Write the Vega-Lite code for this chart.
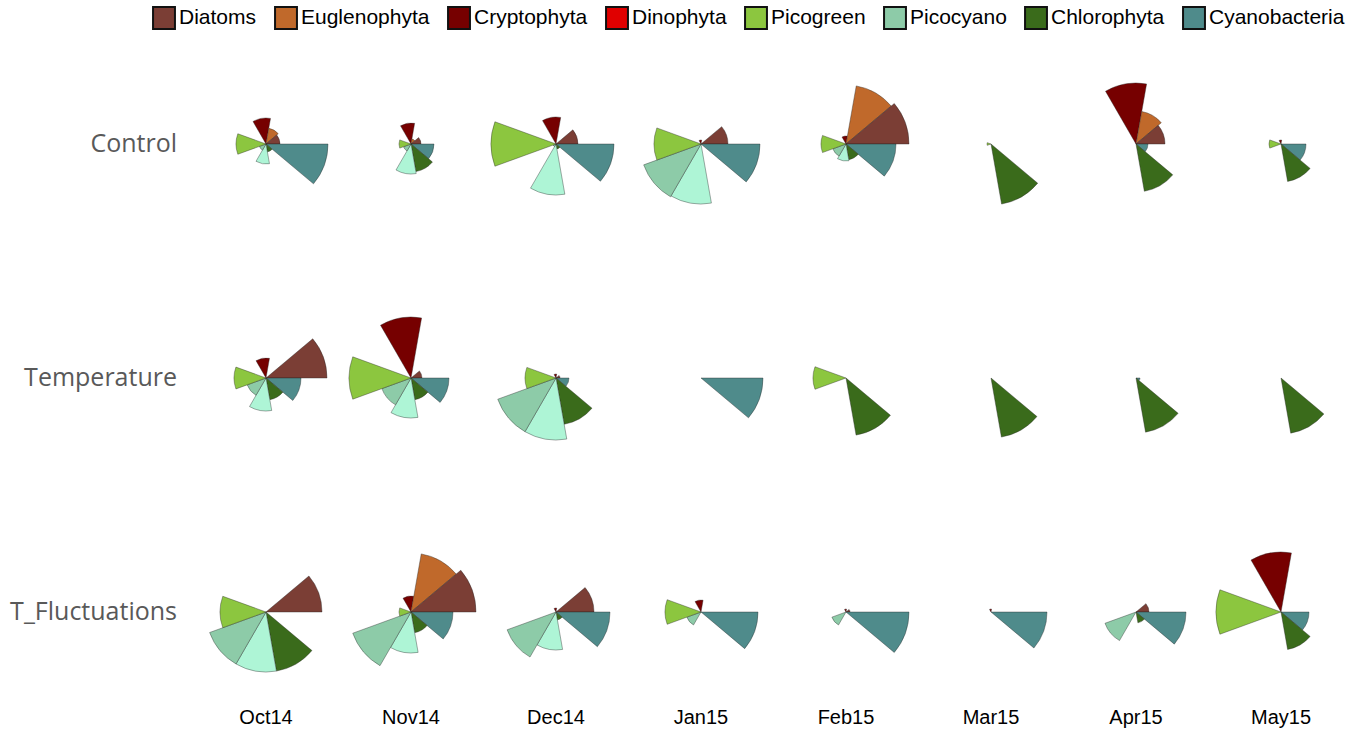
{
  "$schema": "https://vega.github.io/schema/vega-lite/v6.json",
  "padding": {"left": 10, "top": 6, "right": 5, "bottom": 5},
  "background": "white",
  "data": {"values": [
    {"treatment":"Control","month":"Oct14","group":"Cryptophyta","value":26},
    {"treatment":"Control","month":"Oct14","group":"Euglenophyta","value":16},
    {"treatment":"Control","month":"Oct14","group":"Diatoms","value":14},
    {"treatment":"Control","month":"Oct14","group":"Cyanobacteria","value":62},
    {"treatment":"Control","month":"Oct14","group":"Chlorophyta","value":8},
    {"treatment":"Control","month":"Oct14","group":"Other","value":20},
    {"treatment":"Control","month":"Oct14","group":"Picocyano","value":7},
    {"treatment":"Control","month":"Oct14","group":"Picogreen","value":30},
    {"treatment":"Control","month":"Oct14","group":"Dinophyta","value":0},
    {"treatment":"Control","month":"Nov14","group":"Cryptophyta","value":21},
    {"treatment":"Control","month":"Nov14","group":"Euglenophyta","value":5},
    {"treatment":"Control","month":"Nov14","group":"Diatoms","value":10},
    {"treatment":"Control","month":"Nov14","group":"Cyanobacteria","value":23},
    {"treatment":"Control","month":"Nov14","group":"Chlorophyta","value":28},
    {"treatment":"Control","month":"Nov14","group":"Other","value":30},
    {"treatment":"Control","month":"Nov14","group":"Picocyano","value":8},
    {"treatment":"Control","month":"Nov14","group":"Picogreen","value":12},
    {"treatment":"Control","month":"Nov14","group":"Dinophyta","value":0},
    {"treatment":"Control","month":"Dec14","group":"Cryptophyta","value":27},
    {"treatment":"Control","month":"Dec14","group":"Euglenophyta","value":0},
    {"treatment":"Control","month":"Dec14","group":"Diatoms","value":22},
    {"treatment":"Control","month":"Dec14","group":"Cyanobacteria","value":58},
    {"treatment":"Control","month":"Dec14","group":"Chlorophyta","value":5},
    {"treatment":"Control","month":"Dec14","group":"Other","value":51},
    {"treatment":"Control","month":"Dec14","group":"Picocyano","value":3},
    {"treatment":"Control","month":"Dec14","group":"Picogreen","value":65},
    {"treatment":"Control","month":"Dec14","group":"Dinophyta","value":0},
    {"treatment":"Control","month":"Jan15","group":"Cryptophyta","value":4},
    {"treatment":"Control","month":"Jan15","group":"Euglenophyta","value":0},
    {"treatment":"Control","month":"Jan15","group":"Diatoms","value":27},
    {"treatment":"Control","month":"Jan15","group":"Cyanobacteria","value":59},
    {"treatment":"Control","month":"Jan15","group":"Chlorophyta","value":0},
    {"treatment":"Control","month":"Jan15","group":"Other","value":60},
    {"treatment":"Control","month":"Jan15","group":"Picocyano","value":61},
    {"treatment":"Control","month":"Jan15","group":"Picogreen","value":47},
    {"treatment":"Control","month":"Jan15","group":"Dinophyta","value":0},
    {"treatment":"Control","month":"Feb15","group":"Cryptophyta","value":8},
    {"treatment":"Control","month":"Feb15","group":"Euglenophyta","value":59},
    {"treatment":"Control","month":"Feb15","group":"Diatoms","value":63},
    {"treatment":"Control","month":"Feb15","group":"Cyanobacteria","value":50},
    {"treatment":"Control","month":"Feb15","group":"Chlorophyta","value":16},
    {"treatment":"Control","month":"Feb15","group":"Other","value":17},
    {"treatment":"Control","month":"Feb15","group":"Picocyano","value":14},
    {"treatment":"Control","month":"Feb15","group":"Picogreen","value":25},
    {"treatment":"Control","month":"Feb15","group":"Dinophyta","value":0},
    {"treatment":"Control","month":"Mar15","group":"Cryptophyta","value":0},
    {"treatment":"Control","month":"Mar15","group":"Euglenophyta","value":0},
    {"treatment":"Control","month":"Mar15","group":"Diatoms","value":0},
    {"treatment":"Control","month":"Mar15","group":"Cyanobacteria","value":0},
    {"treatment":"Control","month":"Mar15","group":"Chlorophyta","value":61},
    {"treatment":"Control","month":"Mar15","group":"Other","value":0},
    {"treatment":"Control","month":"Mar15","group":"Picocyano","value":0},
    {"treatment":"Control","month":"Mar15","group":"Picogreen","value":4},
    {"treatment":"Control","month":"Mar15","group":"Dinophyta","value":0},
    {"treatment":"Control","month":"Apr15","group":"Cryptophyta","value":61},
    {"treatment":"Control","month":"Apr15","group":"Euglenophyta","value":33},
    {"treatment":"Control","month":"Apr15","group":"Diatoms","value":29},
    {"treatment":"Control","month":"Apr15","group":"Cyanobacteria","value":12},
    {"treatment":"Control","month":"Apr15","group":"Chlorophyta","value":48},
    {"treatment":"Control","month":"Apr15","group":"Other","value":0},
    {"treatment":"Control","month":"Apr15","group":"Picocyano","value":0},
    {"treatment":"Control","month":"Apr15","group":"Picogreen","value":0},
    {"treatment":"Control","month":"Apr15","group":"Dinophyta","value":0},
    {"treatment":"Control","month":"May15","group":"Cryptophyta","value":4},
    {"treatment":"Control","month":"May15","group":"Euglenophyta","value":0},
    {"treatment":"Control","month":"May15","group":"Diatoms","value":0},
    {"treatment":"Control","month":"May15","group":"Cyanobacteria","value":25},
    {"treatment":"Control","month":"May15","group":"Chlorophyta","value":38},
    {"treatment":"Control","month":"May15","group":"Other","value":0},
    {"treatment":"Control","month":"May15","group":"Picocyano","value":0},
    {"treatment":"Control","month":"May15","group":"Picogreen","value":12},
    {"treatment":"Control","month":"May15","group":"Dinophyta","value":0},

    {"treatment":"Temperature","month":"Oct14","group":"Cryptophyta","value":20},
    {"treatment":"Temperature","month":"Oct14","group":"Euglenophyta","value":0},
    {"treatment":"Temperature","month":"Oct14","group":"Diatoms","value":61},
    {"treatment":"Temperature","month":"Oct14","group":"Cyanobacteria","value":35},
    {"treatment":"Temperature","month":"Oct14","group":"Chlorophyta","value":22},
    {"treatment":"Temperature","month":"Oct14","group":"Other","value":33},
    {"treatment":"Temperature","month":"Oct14","group":"Picocyano","value":20},
    {"treatment":"Temperature","month":"Oct14","group":"Picogreen","value":32},
    {"treatment":"Temperature","month":"Oct14","group":"Dinophyta","value":0},
    {"treatment":"Temperature","month":"Nov14","group":"Cryptophyta","value":61},
    {"treatment":"Temperature","month":"Nov14","group":"Euglenophyta","value":0},
    {"treatment":"Temperature","month":"Nov14","group":"Diatoms","value":11},
    {"treatment":"Temperature","month":"Nov14","group":"Cyanobacteria","value":38},
    {"treatment":"Temperature","month":"Nov14","group":"Chlorophyta","value":22},
    {"treatment":"Temperature","month":"Nov14","group":"Other","value":40},
    {"treatment":"Temperature","month":"Nov14","group":"Picocyano","value":31},
    {"treatment":"Temperature","month":"Nov14","group":"Picogreen","value":62},
    {"treatment":"Temperature","month":"Nov14","group":"Dinophyta","value":0},
    {"treatment":"Temperature","month":"Dec14","group":"Cryptophyta","value":4},
    {"treatment":"Temperature","month":"Dec14","group":"Euglenophyta","value":0},
    {"treatment":"Temperature","month":"Dec14","group":"Diatoms","value":4},
    {"treatment":"Temperature","month":"Dec14","group":"Cyanobacteria","value":13},
    {"treatment":"Temperature","month":"Dec14","group":"Chlorophyta","value":47},
    {"treatment":"Temperature","month":"Dec14","group":"Other","value":62},
    {"treatment":"Temperature","month":"Dec14","group":"Picocyano","value":62},
    {"treatment":"Temperature","month":"Dec14","group":"Picogreen","value":31},
    {"treatment":"Temperature","month":"Dec14","group":"Dinophyta","value":0},
    {"treatment":"Temperature","month":"Jan15","group":"Cryptophyta","value":0},
    {"treatment":"Temperature","month":"Jan15","group":"Euglenophyta","value":0},
    {"treatment":"Temperature","month":"Jan15","group":"Diatoms","value":0},
    {"treatment":"Temperature","month":"Jan15","group":"Cyanobacteria","value":62},
    {"treatment":"Temperature","month":"Jan15","group":"Chlorophyta","value":0},
    {"treatment":"Temperature","month":"Jan15","group":"Other","value":0},
    {"treatment":"Temperature","month":"Jan15","group":"Picocyano","value":0},
    {"treatment":"Temperature","month":"Jan15","group":"Picogreen","value":0},
    {"treatment":"Temperature","month":"Jan15","group":"Dinophyta","value":0},
    {"treatment":"Temperature","month":"Feb15","group":"Cryptophyta","value":0},
    {"treatment":"Temperature","month":"Feb15","group":"Euglenophyta","value":0},
    {"treatment":"Temperature","month":"Feb15","group":"Diatoms","value":0},
    {"treatment":"Temperature","month":"Feb15","group":"Cyanobacteria","value":0},
    {"treatment":"Temperature","month":"Feb15","group":"Chlorophyta","value":58},
    {"treatment":"Temperature","month":"Feb15","group":"Other","value":0},
    {"treatment":"Temperature","month":"Feb15","group":"Picocyano","value":0},
    {"treatment":"Temperature","month":"Feb15","group":"Picogreen","value":33},
    {"treatment":"Temperature","month":"Feb15","group":"Dinophyta","value":0},
    {"treatment":"Temperature","month":"Mar15","group":"Cryptophyta","value":0},
    {"treatment":"Temperature","month":"Mar15","group":"Euglenophyta","value":0},
    {"treatment":"Temperature","month":"Mar15","group":"Diatoms","value":0},
    {"treatment":"Temperature","month":"Mar15","group":"Cyanobacteria","value":0},
    {"treatment":"Temperature","month":"Mar15","group":"Chlorophyta","value":60},
    {"treatment":"Temperature","month":"Mar15","group":"Other","value":0},
    {"treatment":"Temperature","month":"Mar15","group":"Picocyano","value":0},
    {"treatment":"Temperature","month":"Mar15","group":"Picogreen","value":0},
    {"treatment":"Temperature","month":"Mar15","group":"Dinophyta","value":0},
    {"treatment":"Temperature","month":"Apr15","group":"Cryptophyta","value":0},
    {"treatment":"Temperature","month":"Apr15","group":"Euglenophyta","value":0},
    {"treatment":"Temperature","month":"Apr15","group":"Diatoms","value":0},
    {"treatment":"Temperature","month":"Apr15","group":"Cyanobacteria","value":4},
    {"treatment":"Temperature","month":"Apr15","group":"Chlorophyta","value":55},
    {"treatment":"Temperature","month":"Apr15","group":"Other","value":0},
    {"treatment":"Temperature","month":"Apr15","group":"Picocyano","value":0},
    {"treatment":"Temperature","month":"Apr15","group":"Picogreen","value":0},
    {"treatment":"Temperature","month":"Apr15","group":"Dinophyta","value":0},
    {"treatment":"Temperature","month":"May15","group":"Cryptophyta","value":0},
    {"treatment":"Temperature","month":"May15","group":"Euglenophyta","value":0},
    {"treatment":"Temperature","month":"May15","group":"Diatoms","value":0},
    {"treatment":"Temperature","month":"May15","group":"Cyanobacteria","value":0},
    {"treatment":"Temperature","month":"May15","group":"Chlorophyta","value":56},
    {"treatment":"Temperature","month":"May15","group":"Other","value":0},
    {"treatment":"Temperature","month":"May15","group":"Picocyano","value":0},
    {"treatment":"Temperature","month":"May15","group":"Picogreen","value":0},
    {"treatment":"Temperature","month":"May15","group":"Dinophyta","value":0},

    {"treatment":"T_Fluctuations","month":"Oct14","group":"Cryptophyta","value":0},
    {"treatment":"T_Fluctuations","month":"Oct14","group":"Euglenophyta","value":0},
    {"treatment":"T_Fluctuations","month":"Oct14","group":"Diatoms","value":56},
    {"treatment":"T_Fluctuations","month":"Oct14","group":"Cyanobacteria","value":0},
    {"treatment":"T_Fluctuations","month":"Oct14","group":"Chlorophyta","value":60},
    {"treatment":"T_Fluctuations","month":"Oct14","group":"Other","value":60},
    {"treatment":"T_Fluctuations","month":"Oct14","group":"Picocyano","value":60},
    {"treatment":"T_Fluctuations","month":"Oct14","group":"Picogreen","value":46},
    {"treatment":"T_Fluctuations","month":"Oct14","group":"Dinophyta","value":0},
    {"treatment":"T_Fluctuations","month":"Nov14","group":"Cryptophyta","value":16},
    {"treatment":"T_Fluctuations","month":"Nov14","group":"Euglenophyta","value":59},
    {"treatment":"T_Fluctuations","month":"Nov14","group":"Diatoms","value":65},
    {"treatment":"T_Fluctuations","month":"Nov14","group":"Cyanobacteria","value":42},
    {"treatment":"T_Fluctuations","month":"Nov14","group":"Chlorophyta","value":21},
    {"treatment":"T_Fluctuations","month":"Nov14","group":"Other","value":41},
    {"treatment":"T_Fluctuations","month":"Nov14","group":"Picocyano","value":62},
    {"treatment":"T_Fluctuations","month":"Nov14","group":"Picogreen","value":12},
    {"treatment":"T_Fluctuations","month":"Nov14","group":"Dinophyta","value":0},
    {"treatment":"T_Fluctuations","month":"Dec14","group":"Cryptophyta","value":4},
    {"treatment":"T_Fluctuations","month":"Dec14","group":"Euglenophyta","value":0},
    {"treatment":"T_Fluctuations","month":"Dec14","group":"Diatoms","value":38},
    {"treatment":"T_Fluctuations","month":"Dec14","group":"Cyanobacteria","value":54},
    {"treatment":"T_Fluctuations","month":"Dec14","group":"Chlorophyta","value":8},
    {"treatment":"T_Fluctuations","month":"Dec14","group":"Other","value":38},
    {"treatment":"T_Fluctuations","month":"Dec14","group":"Picocyano","value":52},
    {"treatment":"T_Fluctuations","month":"Dec14","group":"Picogreen","value":0},
    {"treatment":"T_Fluctuations","month":"Dec14","group":"Dinophyta","value":0},
    {"treatment":"T_Fluctuations","month":"Jan15","group":"Cryptophyta","value":12},
    {"treatment":"T_Fluctuations","month":"Jan15","group":"Euglenophyta","value":0},
    {"treatment":"T_Fluctuations","month":"Jan15","group":"Diatoms","value":0},
    {"treatment":"T_Fluctuations","month":"Jan15","group":"Cyanobacteria","value":57},
    {"treatment":"T_Fluctuations","month":"Jan15","group":"Chlorophyta","value":0},
    {"treatment":"T_Fluctuations","month":"Jan15","group":"Other","value":0},
    {"treatment":"T_Fluctuations","month":"Jan15","group":"Picocyano","value":15},
    {"treatment":"T_Fluctuations","month":"Jan15","group":"Picogreen","value":36},
    {"treatment":"T_Fluctuations","month":"Jan15","group":"Dinophyta","value":0},
    {"treatment":"T_Fluctuations","month":"Feb15","group":"Cryptophyta","value":3},
    {"treatment":"T_Fluctuations","month":"Feb15","group":"Euglenophyta","value":0},
    {"treatment":"T_Fluctuations","month":"Feb15","group":"Diatoms","value":4},
    {"treatment":"T_Fluctuations","month":"Feb15","group":"Cyanobacteria","value":63},
    {"treatment":"T_Fluctuations","month":"Feb15","group":"Chlorophyta","value":0},
    {"treatment":"T_Fluctuations","month":"Feb15","group":"Other","value":0},
    {"treatment":"T_Fluctuations","month":"Feb15","group":"Picocyano","value":15},
    {"treatment":"T_Fluctuations","month":"Feb15","group":"Picogreen","value":0},
    {"treatment":"T_Fluctuations","month":"Feb15","group":"Dinophyta","value":0},
    {"treatment":"T_Fluctuations","month":"Mar15","group":"Cryptophyta","value":3},
    {"treatment":"T_Fluctuations","month":"Mar15","group":"Euglenophyta","value":0},
    {"treatment":"T_Fluctuations","month":"Mar15","group":"Diatoms","value":0},
    {"treatment":"T_Fluctuations","month":"Mar15","group":"Cyanobacteria","value":56},
    {"treatment":"T_Fluctuations","month":"Mar15","group":"Chlorophyta","value":0},
    {"treatment":"T_Fluctuations","month":"Mar15","group":"Other","value":0},
    {"treatment":"T_Fluctuations","month":"Mar15","group":"Picocyano","value":0},
    {"treatment":"T_Fluctuations","month":"Mar15","group":"Picogreen","value":0},
    {"treatment":"T_Fluctuations","month":"Mar15","group":"Dinophyta","value":0},
    {"treatment":"T_Fluctuations","month":"Apr15","group":"Cryptophyta","value":0},
    {"treatment":"T_Fluctuations","month":"Apr15","group":"Euglenophyta","value":0},
    {"treatment":"T_Fluctuations","month":"Apr15","group":"Diatoms","value":13},
    {"treatment":"T_Fluctuations","month":"Apr15","group":"Cyanobacteria","value":50},
    {"treatment":"T_Fluctuations","month":"Apr15","group":"Chlorophyta","value":11},
    {"treatment":"T_Fluctuations","month":"Apr15","group":"Other","value":0},
    {"treatment":"T_Fluctuations","month":"Apr15","group":"Picocyano","value":33},
    {"treatment":"T_Fluctuations","month":"Apr15","group":"Picogreen","value":0},
    {"treatment":"T_Fluctuations","month":"Apr15","group":"Dinophyta","value":0},
    {"treatment":"T_Fluctuations","month":"May15","group":"Cryptophyta","value":60},
    {"treatment":"T_Fluctuations","month":"May15","group":"Euglenophyta","value":0},
    {"treatment":"T_Fluctuations","month":"May15","group":"Diatoms","value":0},
    {"treatment":"T_Fluctuations","month":"May15","group":"Cyanobacteria","value":28},
    {"treatment":"T_Fluctuations","month":"May15","group":"Chlorophyta","value":38},
    {"treatment":"T_Fluctuations","month":"May15","group":"Other","value":0},
    {"treatment":"T_Fluctuations","month":"May15","group":"Picocyano","value":0},
    {"treatment":"T_Fluctuations","month":"May15","group":"Picogreen","value":65},
    {"treatment":"T_Fluctuations","month":"May15","group":"Dinophyta","value":0}
  ]},
  "transform": [
    {"window": [{"op": "count", "as": "slotEnd"}], "frame": [null, 0], "groupby": ["treatment", "month"]},
    {"window": [{"op": "count", "as": "slotStart"}], "frame": [null, -1], "groupby": ["treatment", "month"]},
    {"filter": "datum.value > 0"}
  ],
  "facet": {
    "row": {
      "field": "treatment", "type": "nominal",
      "sort": ["Control", "Temperature", "T_Fluctuations"],
      "header": {"title": null, "labelAngle": 0, "labelAlign": "left", "labelFont": "Open Sans", "labelFontSize": 25, "labelColor": "#595959", "labelPadding": 24}
    },
    "column": {
      "field": "month", "type": "nominal",
      "sort": ["Oct14", "Nov14", "Dec14", "Jan15", "Feb15", "Mar15", "Apr15", "May15"],
      "header": {"title": null, "labelOrient": "bottom", "labelFont": "Liberation Sans", "labelFontSize": 20, "labelColor": "#000000", "labelPadding": 16}
    }
  },
  "spacing": {"row": 74, "column": 11},
  "spec": {
    "width": 130,
    "height": 160,
    "mark": {"type": "arc", "stroke": "#222222", "strokeWidth": 0.7, "strokeOpacity": 0.55},
    "encoding": {
      "theta": {"field": "slotStart", "type": "quantitative", "stack": null, "scale": {"domain": [0, 9], "range": [-0.5236, 5.7596]}},
      "theta2": {"field": "slotEnd"},
      "radius": {"field": "value", "type": "quantitative", "scale": {"type": "linear", "zero": true, "domain": [0, 65], "range": [0, 65]}},
      "color": {
        "field": "group", "type": "nominal",
        "scale": {
          "domain": ["Diatoms", "Euglenophyta", "Cryptophyta", "Dinophyta", "Picogreen", "Picocyano", "Chlorophyta", "Cyanobacteria", "Other"],
          "range": ["#7b3e35", "#c0692b", "#760000", "#e00000", "#8cc63f", "#8dcba8", "#3a6b1b", "#4f8b8b", "#aef5d6"]
        },
        "legend": {
          "orient": "none", "legendX": -49, "legendY": -58, "direction": "horizontal", "columns": 8,
          "title": null,
          "values": ["Diatoms", "Euglenophyta", "Cryptophyta", "Dinophyta", "Picogreen", "Picocyano", "Chlorophyta", "Cyanobacteria"],
          "symbolType": "square", "symbolSize": 480, "symbolStrokeColor": "#111111", "symbolStrokeWidth": 2, "symbolOpacity": 1,
          "labelFont": "Liberation Sans", "labelFontSize": 21, "labelColor": "#000000", "labelOffset": 3, "columnPadding": 14, "labelLimit": 300
        }
      }
    }
  },
  "config": {"view": {"stroke": null}}
}
